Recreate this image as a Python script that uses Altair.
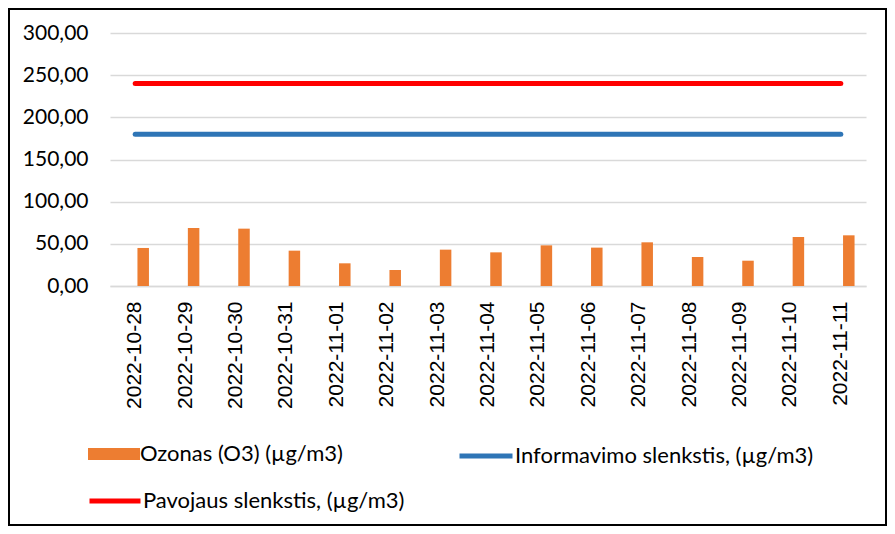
import altair as alt
import pandas as pd

dates = ["2022-10-28", "2022-10-29", "2022-10-30", "2022-10-31", "2022-11-01",
         "2022-11-02", "2022-11-03", "2022-11-04", "2022-11-05", "2022-11-06",
         "2022-11-07", "2022-11-08", "2022-11-09", "2022-11-10", "2022-11-11"]
ozone = [45.1, 68.8, 68.0, 41.9, 26.9, 19.0, 43.1, 39.9, 48.2, 45.5, 51.8, 34.4, 30.0, 58.1, 60.1]
info_threshold = [180, 180, 180, 180, 180, 180, 180, 180, 180, 180, 180, 180, 180, 180, 180]
danger_threshold = [240, 240, 240, 240, 240, 240, 240, 240, 240, 240, 240, 240, 240, 240, 240]
y_ticks = [0, 50, 100, 150, 200, 250, 300]

oz_name = "Ozonas (O3) (µg/m3)"
info_name = "Informavimo slenkstis, (µg/m3)"
danger_name = "Pavojaus slenkstis, (µg/m3)"

df = pd.DataFrame({"date": dates, "ozone": ozone, "info": info_threshold, "danger": danger_threshold})

x_enc = alt.X(
    "date:N", sort=dates,
    scale=alt.Scale(paddingInner=0, paddingOuter=0),
    axis=alt.Axis(title=None, labelAngle=-90, labelFont="Liberation Sans", labelFontSize=21,
                  labelPadding=15, ticks=False, domainColor="#d9d9d9", domainWidth=1.5,
                  labelColor="#000000", grid=False),
)
y_scale = alt.Scale(domain=[0, 300], nice=False)
y_axis = alt.Axis(title=None, values=y_ticks, labelExpr="replace(format(datum.value, '.2f'), '.', ',')",
                  labelFont="Lato", labelFontSize=21, labelColor="#000000", labelPadding=22,
                  ticks=False, domain=False, gridColor="#d9d9d9", gridWidth=1.5)

def legend(x, y, sym, size, sw):
    return alt.Legend(title=None, orient="none", legendX=x, legendY=y, padding=0,
                      labelFont="Lato", labelFontSize=22, labelColor="#000000", labelOffset=0,
                      labelLimit=400,
                      symbolType=sym, symbolSize=size, symbolStrokeWidth=sw, symbolOpacity=1)

base = alt.Chart(df)

bars = base.transform_calculate(series=f"'{oz_name}'").mark_bar(size=11.5, xOffset=8).encode(
    x=x_enc,
    y=alt.Y("ozone:Q", scale=y_scale, axis=y_axis),
    color=alt.Color("series:N", scale=alt.Scale(domain=[oz_name], range=["#ED7D31"]),
                    legend=legend(-22, 395, "M-1,-0.23H1V0.23H-1Z", 2704, 0)),
)

info_line = base.transform_calculate(series=f"'{info_name}'").mark_line(strokeWidth=5, strokeCap="round").encode(
    x=x_enc,
    y=alt.Y("info:Q", scale=y_scale, axis=y_axis),
    color=alt.Color("series:N", scale=alt.Scale(domain=[info_name], range=["#2E75B6"]),
                    legend=legend(347, 394, "stroke", 2809, 5)),
)

danger_line = base.transform_calculate(series=f"'{danger_name}'").mark_line(strokeWidth=5, strokeCap="round").encode(
    x=x_enc,
    y=alt.Y("danger:Q", scale=y_scale, axis=y_axis),
    color=alt.Color("series:N", scale=alt.Scale(domain=[danger_name], range=["#FF0000"]),
                    legend=legend(-23, 440, "stroke", 2601, 5)),
)

frame = alt.Chart(alt.Data(values=[{"a": 1}])).mark_rect(fill=None, stroke="#000000", strokeWidth=2).encode(
    x=alt.value(-101), x2=alt.value(776), y=alt.value(-24), y2=alt.value(492)
)

chart = alt.layer(bars, info_line, danger_line, frame).resolve_scale(color="independent").properties(
    width=756, height=253,
    autosize=alt.AutoSizeParams(type="none"),
    padding={"left": 102, "top": 25, "right": 21, "bottom": 240},
    background="white",
).configure_view(stroke=None)

chart.save("out.html", embed_options={"renderer": "svg", "actions": False})
